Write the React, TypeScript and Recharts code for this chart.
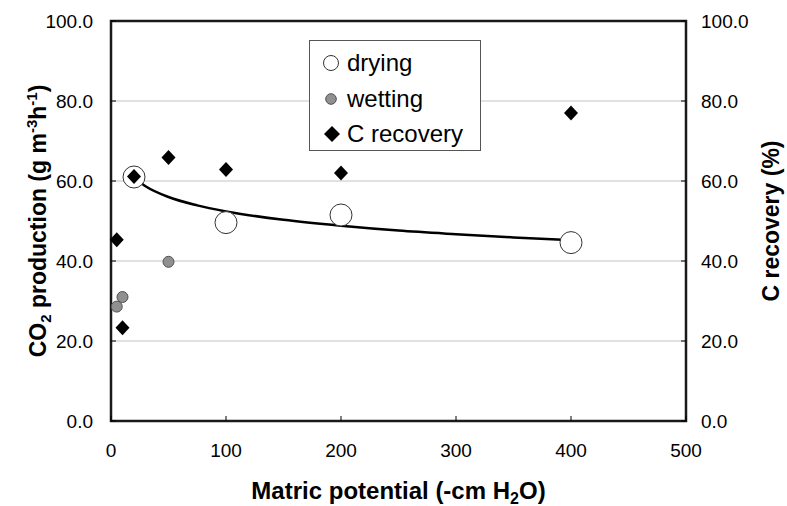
import { ComposedChart, Scatter, Line, XAxis, YAxis, CartesianGrid, ReferenceArea } from "recharts";

// drying (open circles), CO2 production
const dryingX = [20, 100, 200, 400];
const dryingY = [61.0, 49.6, 51.5, 44.6];

// wetting (grey circles), CO2 production
const wettingX = [5, 10, 50];
const wettingY = [28.6, 31.0, 39.8];

// C recovery (diamonds), right axis
const recoveryX = [5, 10, 20, 50, 100, 200, 400];
const recoveryY = [45.3, 23.3, 61.1, 65.9, 62.9, 62.0, 77.0];

// fitted curve through drying
const trendX = [20, 30, 50, 75, 100, 150, 200, 250, 300, 350, 400];
const trendY = [60.8, 58.7, 56.0, 53.9, 52.4, 50.3, 48.8, 47.6, 46.7, 45.9, 45.2];

const xTicks = [0, 100, 200, 300, 400, 500];
const yTicks = [0, 20, 40, 60, 80, 100];

const toPts = (xs: number[], ys: number[]) => xs.map((x, i) => ({ x, y: ys[i] }));
const drying = toPts(dryingX, dryingY);
const wetting = toPts(wettingX, wettingY);
const recovery = toPts(recoveryX, recoveryY);
const trend = toPts(trendX, trendY);

const FONT = "'Liberation Sans', Arial, sans-serif";
const TICK_FS = 19;
const TITLE_FS = 23;

const LeftTick = ({ x, y, payload }: any) => (
  <g>
    <line x1={x} x2={x + 5} y1={y} y2={y} stroke="#000" />
    <text x={x - 18} y={y} dy={7} textAnchor="end" fontSize={TICK_FS} fontFamily={FONT} fill="#000">
      {Number(payload.value).toFixed(1)}
    </text>
  </g>
);

const RightTick = ({ x, y, payload }: any) => (
  <g>
    <line x1={x} x2={x - 5} y1={y} y2={y} stroke="#000" />
    <text x={x + 15} y={y} dy={7} textAnchor="start" fontSize={TICK_FS} fontFamily={FONT} fill="#000">
      {Number(payload.value).toFixed(1)}
    </text>
  </g>
);

const BottomTick = ({ x, y, payload }: any) => (
  <g>
    <line x1={x} x2={x} y1={y} y2={y - 5} stroke="#000" />
    <text x={x} y={y + 36} textAnchor="middle" fontSize={TICK_FS} fontFamily={FONT} fill="#000">
      {payload.value}
    </text>
  </g>
);

const OpenCircle = (p: any) => <circle cx={p.cx} cy={p.cy} r={11} fill="#fff" stroke="#333" strokeWidth={1} />;
const GreyCircle = (p: any) => <circle cx={p.cx} cy={p.cy} r={5.5} fill="#909090" stroke="#505050" strokeWidth={1} />;
const Diamond = (p: any) => (
  <path d={`M${p.cx},${p.cy - 7.5} L${p.cx + 7},${p.cy} L${p.cx},${p.cy + 7.5} L${p.cx - 7},${p.cy} Z`} fill="#000" />
);

const legendItems = [
  { name: "drying", y: 22, mark: <circle cx={10} cy={10} r={7.5} fill="#fff" stroke="#333" /> },
  { name: "wetting", y: 58, mark: <circle cx={10} cy={10} r={5.3} fill="#909090" stroke="#505050" /> },
  { name: "C recovery", y: 93, mark: <path d="M11,2 L19,10 L11,18 L3,10 Z" fill="#000" /> },
];

export default function App() {
  return (
    <div style={{ position: "absolute", left: 0, top: 0, width: 787, height: 506, background: "#fff" }}>
      <ComposedChart width={787} height={506} margin={{ top: 21, right: 0, bottom: 0, left: 0 }}>
        <CartesianGrid yAxisId="left" vertical={false} stroke="#c4c4c4" />
        <XAxis
          dataKey="x"
          type="number"
          domain={[0, 500]}
          ticks={xTicks}
          height={85}
          axisLine={false}
          tickLine={false}
          tickSize={0}
          tickMargin={0}
          tick={BottomTick}
          label={{
            content: ({ viewBox }: any) => (
              <text x={viewBox.x + viewBox.width / 2} y={viewBox.y + 78} textAnchor="middle" fontSize={24} fontWeight="bold" fontFamily={FONT}>
                Matric potential (-cm H<tspan dy={5} fontSize={16}>2</tspan><tspan dy={-5}>O)</tspan>
              </text>
            ),
          }}
        />
        <YAxis
          yAxisId="left"
          dataKey="y"
          type="number"
          domain={[0, 100]}
          ticks={yTicks}
          width={111}
          axisLine={false}
          tickLine={false}
          tickSize={0}
          tickMargin={0}
          tick={LeftTick}
          label={{
            content: ({ viewBox }: any) => {
              const cx = viewBox.x + 46;
              const cy = viewBox.y + viewBox.height / 2;
              return (
                <text x={cx} y={cy} transform={`rotate(-90 ${cx} ${cy})`} textAnchor="middle" fontSize={TITLE_FS} fontWeight="bold" fontFamily={FONT}>
                  CO<tspan dy={5} fontSize={15}>2</tspan>
                  <tspan dy={-5}> production (g m</tspan>
                  <tspan dy={-9} fontSize={15}>-3</tspan>
                  <tspan dy={9}>h</tspan>
                  <tspan dy={-9} fontSize={15}>-1</tspan>
                  <tspan dy={9}>)</tspan>
                </text>
              );
            },
          }}
        />
        <YAxis
          yAxisId="right"
          orientation="right"
          dataKey="y"
          type="number"
          domain={[0, 100]}
          ticks={yTicks}
          width={101}
          axisLine={false}
          tickLine={false}
          tickSize={0}
          tickMargin={0}
          tick={RightTick}
          label={{
            content: ({ viewBox }: any) => {
              const cx = viewBox.x + 93;
              const cy = viewBox.y + viewBox.height / 2;
              return (
                <text x={cx} y={cy} transform={`rotate(-90 ${cx} ${cy})`} textAnchor="middle" fontSize={TITLE_FS} fontWeight="bold" fontFamily={FONT}>
                  C recovery (%)
                </text>
              );
            },
          }}
        />
        <ReferenceArea yAxisId="left" x1={0} x2={500} y1={0} y2={100} fill="none" stroke="#1a1a1a" strokeWidth={2.5} />
        <Scatter yAxisId="left" data={drying} shape={OpenCircle} isAnimationActive={false} />
        <Scatter yAxisId="left" data={wetting} shape={GreyCircle} isAnimationActive={false} />
        <Line
          yAxisId="left"
          data={trend}
          dataKey="y"
          type="monotone"
          stroke="#000"
          strokeWidth={2.5}
          dot={false}
          activeDot={false}
          isAnimationActive={false}
        />
        <Scatter yAxisId="right" data={recovery} shape={Diamond} isAnimationActive={false} />
      </ComposedChart>
      <div
        style={{
          position: "absolute",
          left: 309,
          top: 40,
          width: 172,
          height: 111,
          boxSizing: "border-box",
          border: "1px solid #555",
          background: "#fff",
          fontFamily: FONT,
          fontSize: 24,
          color: "#000",
        }}
      >
        {legendItems.map((e) => (
          <div key={e.name} style={{ position: "absolute", left: 11, top: e.y - 14, height: 28, display: "flex", alignItems: "center" }}>
            <svg width={22} height={20} style={{ marginRight: 4 }}>
              {e.mark}
            </svg>
            <span>{e.name}</span>
          </div>
        ))}
      </div>
    </div>
  );
}
